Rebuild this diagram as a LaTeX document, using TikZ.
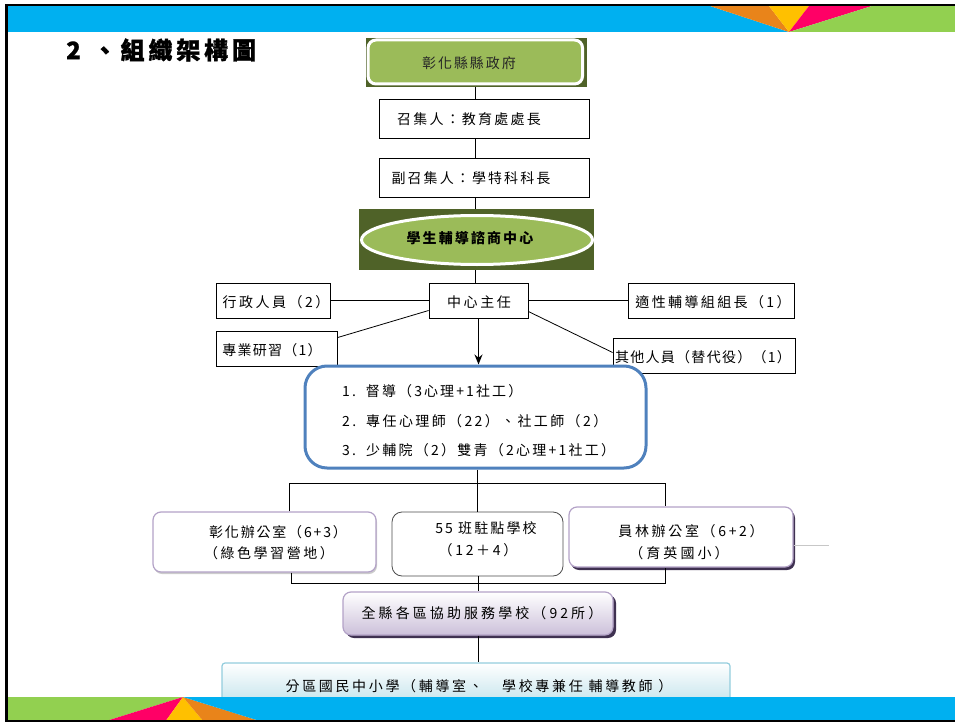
\documentclass[tikz,border=0pt]{standalone}
\usepackage{fontspec}
\usetikzlibrary{shapes.geometric,arrows.meta,shadows}
\newfontfamily\cjk{Noto Sans CJK TC}
\definecolor{barblue}{HTML}{00B0F0}
\definecolor{barorange}{HTML}{E9841A}
\definecolor{baryellow}{HTML}{FFC000}
\definecolor{barpink}{HTML}{FF0066}
\definecolor{bargreen}{HTML}{92D050}
\definecolor{olive}{HTML}{4F6228}
\definecolor{leaf}{HTML}{9BBB59}
\definecolor{frameblue}{HTML}{4F81BD}
\definecolor{lav}{HTML}{B3A2C7}
\definecolor{lavfill}{HTML}{CCC0DA}
\definecolor{plum}{HTML}{3F3151}
\definecolor{cyanline}{HTML}{93CDDD}
\definecolor{cyanfill}{HTML}{B7DEE8}
\tikzset{
  lbl/.style={inner sep=0pt, text=black, font=\cjk\fontsize{14}{16}\selectfont\addfontfeature{LetterSpace=#1}},
  lbl/.default=15,
  conn/.style={draw=black, line width=0.8pt},
  plainbox/.style={draw=black, line width=0.8pt, fill=white, inner sep=0pt},
  olivebox/.style={fill=olive, inner sep=0pt},
  lavbox/.style={draw=lav, line width=1.2pt, fill=white, rounded corners=8pt, inner sep=0pt},
  graybox/.style={draw=black!70, line width=0.8pt, fill=white, rounded corners=10pt, inner sep=0pt},
  downarrow/.style={draw=black, line width=1.7pt, -{Stealth[length=10pt,width=8pt]}},
}
\begin{document}
\begin{tikzpicture}[x=1pt,y=-1pt]
\useasboundingbox (0,0) rectangle (955,722);
% top bar
\fill[barblue] (7,6) -- (710,6) -- (789,32) -- (7,32) -- cycle;
\fill[barorange] (710,6) -- (769,6) -- (789,32) -- cycle;
\fill[baryellow] (769,6) -- (809,6) -- (789,32) -- cycle;
\fill[barpink] (809,6) -- (872,6) -- (789,32) -- cycle;
\fill[bargreen] (872,6) -- (955,6) -- (955,32) -- (789,32) -- cycle;

% title
\node[anchor=west, inner sep=0pt, font=\cjk\bfseries\fontsize{24}{27}\selectfont\addfontfeature{LetterSpace=16,FakeBold=1.2}] (title) at (66,50) {2\hspace{12pt}、組織架構圖};

\coordinate (spine) at (475,0);
\coordinate (mid) at (477,0);
\coordinate (midb) at (478,0);

% government
\node[olivebox, minimum width=221, minimum height=49] (gov) at (476.5,62.5) {};
\node[fill=leaf, draw=white, line width=3pt, rounded corners=8pt, minimum width=214.5, minimum height=44, inner sep=0pt] (govin) at (475.3,62) {};
\node[lbl=14, text=black!85] (govt) at (469,63) {彰化縣縣政府};

\node[plainbox, minimum width=210, minimum height=39] (conv) at (484,118.5) {};
\node[lbl=16] (convt) at (469,119) {召集人：教育處處長};

\node[plainbox, minimum width=210, minimum height=39] (vice) at (484,177.5) {};
\node[lbl=15] (vicet) at (471,178) {副召集人：學特科科長};

\node[olivebox, minimum width=235, minimum height=61] (cbg) at (476.5,239.5) {};
\node[ellipse, fill=leaf, draw=white, line width=3pt, minimum width=231, minimum height=49, inner sep=0pt] (cell) at (477,240) {};
\node[inner sep=0pt, font=\cjk\bfseries\fontsize{14}{16}\selectfont\addfontfeature{LetterSpace=15}] (cellt) at (470,238) {學生輔導諮商中心};

\draw[conn] (gov.south -| spine) -- (conv.north -| spine);
\draw[conn] (conv.south -| spine) -- (vice.north -| spine);
\draw[conn] (vice.south -| spine) -- (cbg.north -| spine);

% director row
\node[plainbox, minimum width=114, minimum height=35] (admin) at (273,300.5) {};
\node[lbl=18] (admint) at (276,302) {行政人員（2）};
\node[plainbox, minimum width=99, minimum height=35] (director) at (478.5,300.5) {};
\node[lbl=18] (directort) at (479,302) {中心主任};
\node[plainbox, minimum width=166, minimum height=35] (apt) at (711,300.5) {};
\node[lbl=17] (aptt) at (713,302) {適性輔導組組長（1）};
\node[plainbox, minimum width=121, minimum height=35] (train) at (276.5,348.5) {};
\node[lbl=9] (traint) at (272,350) {專業研習（1）};
\node[plainbox, minimum width=182, minimum height=35] (others) at (704,355.5) {};
\node[lbl=9] (otherst) at (703,357) {其他人員（替代役）（1）};

\draw[conn] (cbg.south -| spine) -- (director.north -| spine);
\draw[conn] (admin.east) -- (director.west);
\draw[conn] (director.east) -- (apt.west);
\draw[conn] ([yshift=-10pt]director.west) -- ([yshift=-7pt]train.north east);
\draw[conn] ([yshift=-11pt]director.east) -- ([yshift=3pt]others.west);

% team box
\node[draw=frameblue, line width=3pt, rounded corners=22pt, fill=white, minimum width=341, minimum height=102, inner sep=0pt] (team) at (475.5,417) {};
\node[lbl=15, anchor=west] (team1) at (342,391) {1.\kern10pt督導（3心理+1社工）};
\node[lbl=17, anchor=west] (team2) at (342,421) {2.\kern10pt專任心理師（22）、社工師（2）};
\node[lbl=16, anchor=west] (team3) at (342,450) {3.\kern10pt少輔院（2）雙青（2心理+1社工）};
\draw[downarrow] (director.south) -- (director.south |- team.north);

% offices
\node[lavbox, drop shadow={shadow xshift=1pt, shadow yshift=-2pt, fill=black!20, opacity=1}, minimum width=223, minimum height=60] (chg) at (264.5,542) {};
\node[lbl=13] (chg1) at (278,532) {彰化辦公室（6+3）};
\node[lbl=18] (chg2) at (269,553) {（綠色學習營地）};
\node[graybox, minimum width=171, minimum height=64] (station) at (477.5,544) {};
\node[lbl=15] (st1) at (486,528) {55 班駐點學校};
\node[lbl=19] (st2) at (478,550) {（12＋4）};
\node[lavbox, drop shadow={shadow xshift=2pt, shadow yshift=-3pt, fill=plum, opacity=1}, minimum width=224, minimum height=60] (yl) at (681,537) {};
\node[lbl=19] (yl1) at (691,531) {員林辦公室（6+2）};
\node[lbl=22] (yl2) at (679,553) {（育英國小）};
\coordinate (stub) at (829,545);
\draw[draw=black!22, line width=0.8pt] (yl.east |- stub) -- (stub);

\coordinate (busL) at (289,483);
\coordinate (busR) at (665,483);
\coordinate (lowL) at (291,583);
\coordinate (lowR) at (665,583);
\draw[conn] (team.south -| mid) -- (station.north -| mid);
\draw[conn] (chg.north -| busL) |- (busR) -- (yl.north -| busR);
\draw[conn] (chg.south -| lowL) |- (lowR) -- (yl.south -| lowR);

% county
\node[lavbox, top color=white, bottom color=lavfill, drop shadow={shadow xshift=3pt, shadow yshift=-3pt, fill=plum, opacity=1}, minimum width=270, minimum height=43] (county) at (478,613.5) {};
\node[lbl=22] (countyt) at (482,613) {全縣各區協助服務學校（92所）};
\draw[conn] (station.south -| midb) -- (county.north -| midb);

% district
\node[draw=cyanline, line width=1.2pt, rounded corners=3pt, top color=white, bottom color=cyanfill, minimum width=508, minimum height=50, inner sep=0pt] (district) at (476,688) {};
\node[lbl=19] (districtt) at (479,686) {分區國民中小學（輔導室、　學校專兼任 輔導教師 ）};
\draw[conn] (county.south -| midb) -- (district.north -| midb);

% bottom bar
\fill[bargreen] (7,697) -- (183,697) -- (103,722) -- (7,722) -- cycle;
\fill[barpink] (183,697) -- (103,722) -- (165,722) -- cycle;
\fill[baryellow] (183,697) -- (165,722) -- (204,722) -- cycle;
\fill[barorange] (183,697) -- (204,722) -- (263,722) -- cycle;
\fill[barblue] (183,697) -- (955,697) -- (955,722) -- (263,722) -- cycle;

% frame
\draw[line width=2.2pt] (6.5,722) -- (6.5,5) -- (955,5);
\draw[line width=1.6pt] (6.5,721.2) -- (955,721.2);
\end{tikzpicture}
\end{document}
